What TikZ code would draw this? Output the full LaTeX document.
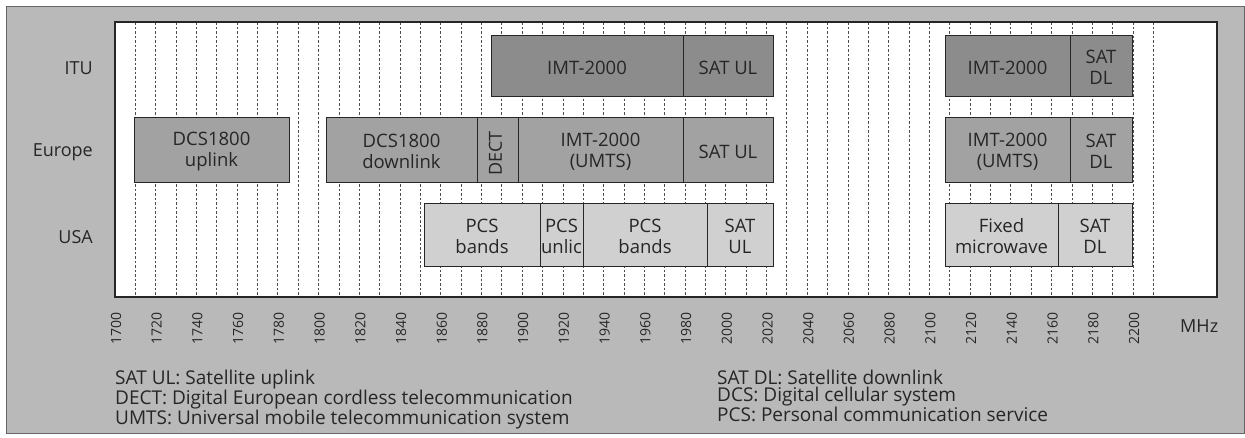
\documentclass[tikz,border=0pt]{standalone}
\usepackage{fontspec}
\setmainfont{Open Sans}
\usepackage{tikz}
\usetikzlibrary{positioning}
\definecolor{frameGray}{HTML}{B9B9B9}
\definecolor{ituGray}{HTML}{8C8C8C}
\definecolor{eurGray}{HTML}{A2A2A2}
\definecolor{usaGray}{HTML}{D0D0D0}
\colorlet{ink}{black!85}

\begin{document}
\begin{tikzpicture}[x=1pt, y=-1pt,
  band/.style={draw=ink, line width=0.9pt},
  ituband/.style={band, fill=ituGray},
  eurband/.style={band, fill=eurGray},
  usaband/.style={band, fill=usaGray},
  bandlbl/.style={font=\fontsize{18.5}{21}\selectfont, align=center, text=ink, inner sep=0pt, yshift=-2pt},
  rowlbl/.style={font=\fontsize{18}{21}\selectfont, anchor=east, text=ink, inner sep=0pt},
  ticklbl/.style={font=\fontsize{14}{16}\selectfont, rotate=90, anchor=east, text=ink, inner sep=0pt},
  legend/.style={font=\fontsize{19}{16.5}\selectfont, align=left, anchor=north west, text=ink, inner sep=0pt},
  gridline/.style={black!70, line width=0.8pt, dash pattern=on 2.5pt off 2pt}]
  \useasboundingbox (0,0) rectangle (1245,437);
  % frame and plot area
  \fill[frameGray, draw=black!60, line width=0.8pt] (6,6) rectangle (1244,433);
  \fill[white] (115,22) rectangle (1217,297);
  \foreach \i in {1,...,51} {
    \draw[gridline] ({115+20.36*\i},22) -- ({115+20.36*\i},297);
  }
  \draw[ink, line width=1.2pt] (115,22) rectangle (1217,297);
  % ITU
  \draw[ituband] (491,35) rectangle node[bandlbl] (ituImt) {IMT-2000} (683,96);
  \draw[ituband] (683,35) rectangle node[bandlbl] (ituSatUl) {SAT UL} (773,96);
  \draw[ituband] (945,35) rectangle node[bandlbl] (ituImtB) {IMT-2000} (1070,96);
  \draw[ituband] (1070,35) rectangle node[bandlbl] (ituSatDl) {SAT\\DL} (1132,96);
  % Europe
  \draw[eurband] (134,117) rectangle node[bandlbl] (eurDcsUp) {DCS1800\\uplink} (289,182);
  \draw[eurband] (326,117) rectangle node[bandlbl] (eurDcsDn) {DCS1800\\downlink} (477,182);
  \draw[eurband] (477,117) rectangle node[bandlbl, font=\fontsize{18}{21}\selectfont, rotate=90, yshift=2pt, xshift=-2pt] (eurDect) {DECT} (518,182);
  \draw[eurband] (518,117) rectangle node[bandlbl] (eurImt) {IMT-2000\\(UMTS)} (683,182);
  \draw[eurband] (683,117) rectangle node[bandlbl] (eurSatUl) {SAT UL} (773,182);
  \draw[eurband] (945,117) rectangle node[bandlbl] (eurImtB) {IMT-2000\\(UMTS)} (1070,182);
  \draw[eurband] (1070,117) rectangle node[bandlbl] (eurSatDl) {SAT\\DL} (1132,182);
  % USA
  \draw[usaband] (424,203) rectangle node[bandlbl] (usaPcs) {PCS\\bands} (540,266);
  \draw[usaband] (540,203) rectangle node[bandlbl] (usaUnlic) {PCS\\unlic} (583,266);
  \draw[usaband] (583,203) rectangle node[bandlbl] (usaPcsB) {PCS\\bands} (707,266);
  \draw[usaband] (707,203) rectangle node[bandlbl] (usaSatUl) {SAT\\UL} (773,266);
  \draw[usaband] (945,203) rectangle node[bandlbl] (usaFixed) {Fixed\\microwave} (1058,266);
  \draw[usaband] (1058,203) rectangle node[bandlbl] (usaSatDl) {SAT\\DL} (1132,266);
  % row names
  \node[rowlbl] (rowItu) at (93,68) {ITU};
  \node[rowlbl] (rowEur) at (93,152) {Europe};
  \node[rowlbl] (rowUsa) at (93,237) {USA};
  % frequency axis
  \foreach \i in {0,...,25} {
    \pgfmathtruncatemacro\f{1700+20*\i}
    \node[ticklbl] (tick\i) at ({116+40.72*\i},312) {\f};
  }
  \node[font=\fontsize{18}{20}\selectfont, anchor=west, text=ink, inner sep=0pt] (unit) at (1180,326) {MHz};
  % legend
  \node[legend] (keyLeft) at (115,370) {SAT UL: Satellite uplink\\DECT: Digital European cordless telecommunication\\UMTS: Universal mobile telecommunication system};
  \node[legend] (keyRight) at (717,370) {SAT DL: Satellite downlink\\DCS: Digital cellular system\\PCS: Personal communication service};
\end{tikzpicture}
\end{document}
